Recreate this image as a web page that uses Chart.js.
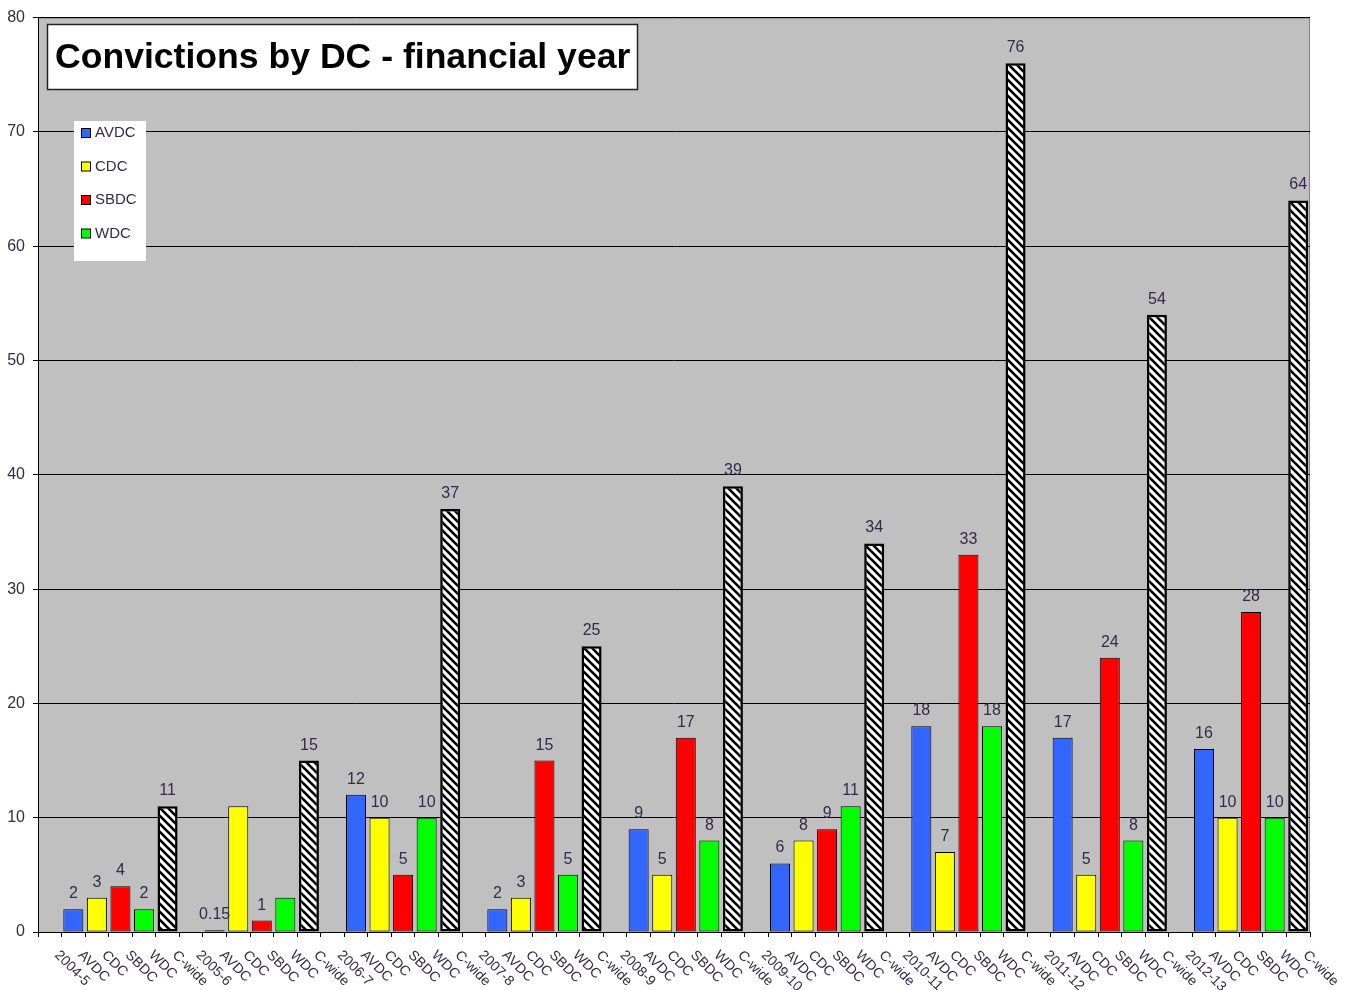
<!DOCTYPE html>
<html>
<head>
<meta charset="utf-8">
<script src="https://cdn.jsdelivr.net/npm/chart.js@4/dist/chart.umd.min.js"></script>
<style>
html, body { margin: 0; padding: 0; background: #fff; }
#chart { display: block; }
</style>
</head>
<body>
<canvas id="chart" width="1346" height="990"></canvas>
<script>
// Données
const years = ['2004-5', '2005-6', '2006-7', '2007-8', '2008-9', '2009-10', '2010-11', '2011-12', '2012-13'];
const districts = ['AVDC', 'CDC', 'SBDC', 'WDC', 'C-wide'];
const avdc = [2, 0.15, 12, 2, 9, 6, 18, 17, 16];
const cdc = [3, 11, 10, 3, 5, 8, 7, 5, 10];
const sbdc = [4, 1, 5, 15, 17, 9, 33, 24, 28];
const wdc = [2, 3, 10, 5, 8, 11, 18, 8, 10];
const cwide = [11, 15, 37, 25, 39, 34, 76, 54, 64];
const yMax = 80;
const yStep = 10;
// étiquettes de valeur absentes sur l'original
const hiddenLabels = [['CDC', '2005-6'], ['WDC', '2005-6']];

const TEXT = '#33294d';
const FONT = '"Liberation Sans", Arial, sans-serif';

// une case "année" puis une case par district
const categories = [];
years.forEach(y => {
    categories.push(y);
    districts.forEach(d => categories.push(d));
});

// motif hachuré pour C-wide
function makeHatch() {
    const c = document.createElement('canvas');
    c.width = 8; c.height = 8;
    const g = c.getContext('2d');
    g.fillStyle = '#fff';
    g.fillRect(0, 0, 8, 8);
    g.strokeStyle = '#000';
    g.lineWidth = 2.6;
    for (let k = -1; k <= 1; k++) {
        g.beginPath();
        g.moveTo(-2, -2 + 8 * k);
        g.lineTo(10, 10 + 8 * k);
        g.stroke();
    }
    return g.createPattern(c, 'repeat');
}

const seriesValues = [avdc, cdc, sbdc, wdc, cwide];
const seriesColors = ['#3366ff', '#ffff00', '#ff0000', '#00ff00', makeHatch()];

const datasets = districts.map((d, k) => ({
    label: d,
    data: categories.map((c, i) => (i % 6 === k + 1 ? seriesValues[k][Math.floor(i / 6)] : null)),
    backgroundColor: seriesColors[k],
    borderColor: '#000',
    borderWidth: d === 'C-wide' ? 2.5 : 1,
    borderSkipped: false,
    grouped: false,
    barPercentage: 0.85,
    categoryPercentage: 1
}));

// fond gris de la zone de tracé
const plotBackground = {
    id: 'plotBackground',
    beforeDraw(chart) {
        const { ctx, chartArea: a } = chart;
        ctx.save();
        ctx.fillStyle = '#c0c0c0';
        ctx.fillRect(a.left, a.top, a.right - a.left, a.bottom - a.top);
        ctx.strokeStyle = '#808080';
        ctx.lineWidth = 1;
        ctx.beginPath();
        ctx.moveTo(a.left, a.top + 0.5);
        ctx.lineTo(a.right - 0.5, a.top + 0.5);
        ctx.lineTo(a.right - 0.5, a.bottom);
        ctx.stroke();
        ctx.restore();
    }
};

// valeurs au-dessus des barres
const valueLabels = {
    id: 'valueLabels',
    afterDatasetsDraw(chart) {
        const ctx = chart.ctx;
        ctx.save();
        ctx.font = '16px ' + FONT;
        ctx.fillStyle = TEXT;
        ctx.textAlign = 'center';
        ctx.textBaseline = 'alphabetic';
        chart.data.datasets.forEach((ds, k) => {
            const meta = chart.getDatasetMeta(k);
            ds.data.forEach((v, i) => {
                if (v === null) return;
                const year = years[Math.floor(i / 6)];
                if (hiddenLabels.some(h => h[0] === ds.label && h[1] === year)) return;
                const el = meta.data[i];
                ctx.fillText(String(v), el.x, el.y - 11);
            });
        });
        ctx.restore();
    }
};

// étiquettes de l'axe X inclinées, titre et légende
const decorations = {
    id: 'decorations',
    afterDraw(chart) {
        const { ctx, chartArea: a } = chart;
        const xs = chart.scales.x;
        ctx.save();
        ctx.font = '14px ' + FONT;
        ctx.fillStyle = TEXT;
        ctx.textAlign = 'left';
        ctx.textBaseline = 'middle';
        categories.forEach((c, i) => {
            const x = xs.getPixelForValue(i);
            ctx.save();
            ctx.translate(x + 7, a.bottom + 21);
            ctx.rotate(Math.PI / 4);
            ctx.fillText(c, 0, 0);
            ctx.restore();
        });

        // titre
        ctx.fillStyle = '#fff';
        ctx.fillRect(47, 24, 590, 66);
        ctx.strokeStyle = '#222';
        ctx.lineWidth = 1.5;
        ctx.strokeRect(47.5, 24.5, 590, 65);
        ctx.fillStyle = '#000';
        ctx.font = 'bold 35.6px ' + FONT;
        ctx.textBaseline = 'alphabetic';
        ctx.fillText('Convictions by DC - financial year', 55, 68);

        // légende
        ctx.fillStyle = '#fff';
        ctx.fillRect(74, 121, 72, 140);
        ctx.font = '15px ' + FONT;
        ctx.textBaseline = 'middle';
        districts.slice(0, 4).forEach((d, k) => {
            const y = 133 + k * 33.5;
            ctx.fillStyle = seriesColors[k];
            ctx.fillRect(81.5, y - 4.5, 9, 9);
            ctx.strokeStyle = '#000';
            ctx.lineWidth = 1;
            ctx.strokeRect(81.5, y - 4.5, 9, 9);
            ctx.fillStyle = TEXT;
            ctx.fillText(d, 95, y);
        });
        ctx.restore();
    }
};

new Chart(document.getElementById('chart'), {
    type: 'bar',
    data: { labels: categories, datasets: datasets },
    plugins: [plotBackground, valueLabels, decorations],
    options: {
        responsive: false,
        animation: false,
        layout: { padding: { top: 17, right: 36, left: 0, bottom: 0 } },
        scales: {
            x: {
                ticks: { display: false },
                grid: { drawOnChartArea: false, drawTicks: true, tickLength: 5, color: '#000', offset: true },
                border: { color: '#000', width: 1 },
                afterFit: s => { s.height = 58; }
            },
            y: {
                min: 0,
                max: yMax,
                ticks: { stepSize: yStep, color: TEXT, font: { size: 16, family: FONT }, padding: 8 },
                grid: { color: '#000', tickLength: 5, tickColor: '#000' },
                border: { color: '#000', width: 1 },
                afterFit: s => { s.width = 38; }
            }
        },
        plugins: {
            legend: { display: false },
            tooltip: { enabled: false }
        }
    }
});
</script>
</body>
</html>
